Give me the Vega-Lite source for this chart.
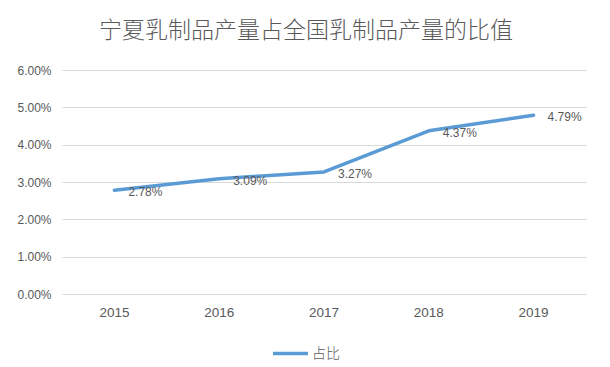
{
  "$schema": "https://vega.github.io/schema/vega-lite/v6.json",
  "autosize": {"type": "none"},
  "width": 524,
  "height": 224,
  "padding": {"left": 62, "top": 70, "right": 24, "bottom": 73},
  "background": "white",
  "title": {
    "text": "宁夏乳制品产量占全国乳制品产量的比值",
    "font": "Noto Sans CJK SC",
    "fontSize": 23,
    "fontWeight": 300,
    "color": "#595959",
    "anchor": "middle",
    "dx": -18,
    "offset": 21
  },
  "data": {
    "values": [
      {"year": "2015", "value": 0.0278, "series": "占比"},
      {"year": "2016", "value": 0.0309, "series": "占比"},
      {"year": "2017", "value": 0.0327, "series": "占比"},
      {"year": "2018", "value": 0.0437, "series": "占比"},
      {"year": "2019", "value": 0.0479, "series": "占比"}
    ]
  },
  "encoding": {
    "x": {
      "field": "year",
      "type": "ordinal",
      "scale": {"type": "band", "paddingInner": 0, "paddingOuter": 0},
      "axis": {
        "title": null,
        "labelAngle": 0,
        "ticks": false,
        "domain": false,
        "grid": false,
        "labelPadding": 11,
        "labelFont": "Liberation Sans",
        "labelFontSize": 13.5,
        "labelFontWeight": "normal",
        "labelColor": "#595959"
      }
    },
    "y": {
      "field": "value",
      "type": "quantitative",
      "scale": {"domain": [0, 0.06], "nice": false},
      "axis": {
        "title": null,
        "format": ".2%",
        "values": [0, 0.01, 0.02, 0.03, 0.04, 0.05, 0.06],
        "ticks": false,
        "domain": false,
        "grid": true,
        "gridColor": "#D9D9D9",
        "gridWidth": 1,
        "labelPadding": 11,
        "labelFont": "Liberation Sans",
        "labelFontSize": 12,
        "labelColor": "#595959"
      }
    }
  },
  "layer": [
    {
      "mark": {"type": "line", "strokeWidth": 3.5, "strokeCap": "round", "strokeJoin": "round"},
      "encoding": {
        "color": {
          "field": "series",
          "type": "nominal",
          "scale": {"range": ["#5B9BD5"]},
          "legend": {
            "title": null,
            "orient": "none",
            "legendX": 209,
            "legendY": 264,
            "direction": "horizontal",
            "symbolType": "stroke",
            "symbolSize": 1225,
            "symbolStrokeWidth": 3.5,
            "symbolStrokeColor": "#5B9BD5",
            "labelFont": "Noto Sans CJK SC",
            "labelFontSize": 14,
            "labelFontWeight": 300,
            "labelColor": "#595959",
            "labelOffset": 2
          }
        }
      }
    },
    {
      "mark": {
        "type": "text",
        "align": "left",
        "baseline": "middle",
        "dx": 14,
        "dy": 2,
        "font": "Liberation Sans",
        "fontSize": 12,
        "color": "#595959"
      },
      "encoding": {
        "text": {"field": "value", "type": "quantitative", "format": ".2%"}
      }
    }
  ],
  "config": {
    "view": {"stroke": null}
  }
}
